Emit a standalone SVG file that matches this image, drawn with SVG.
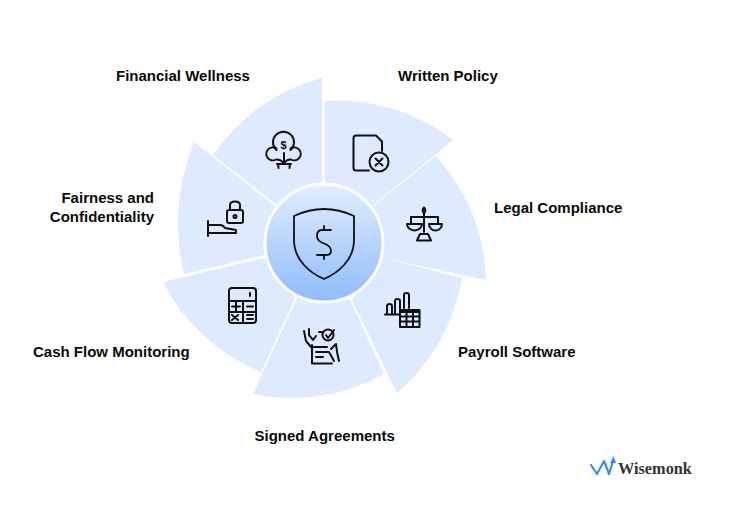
<svg xmlns="http://www.w3.org/2000/svg" width="738" height="509" viewBox="0 0 738 509">
<defs>
<linearGradient id="hub" x1="0" y1="0" x2="0" y2="1"><stop offset="0" stop-color="#e2eefe"/><stop offset="1" stop-color="#8fbcfb"/></linearGradient>
<style>
.s{fill:#deebfe}
.l{font-family:"Liberation Sans",Arial,sans-serif;font-weight:700;font-size:15px;fill:#0a0a0a}
.i{fill:none;stroke:#111;stroke-width:2;stroke-linecap:round;stroke-linejoin:round}
</style>
</defs>
<rect width="738" height="509" fill="#fff"/>
<g id="connectors"></g>
<g id="written-policy"><path class="s" d="M325 190L325 101A190 190 0 0 1 453 140L372 206Z"/>
<g class="i"><path d="M369 170.500H356Q353.500 170.500 353.500 168V138Q353.500 135.500 356 135.500H376L382 141.500V151"/><circle cx="379" cy="162" r="9.500"/><path d="M375.500 158.500L382.500 165.500M382.500 158.500L375.500 165.500"/></g>
<text class="l" x="398" y="81">Written Policy</text></g>
<g id="legal-compliance"><path class="s" d="M372 207L436 156A190 190 0 0 1 486 280L383 258Z"/>
<g class="i"><path d="M424 214V232M411 217H438"/><path d="M407 224A7.500 6.500 0 0 0 422 224ZM429 224A6.500 6.500 0 0 0 442 224Z"/><path d="M411 217V224M438 217V224"/><path d="M420 234H428L431 240.500H417Z"/><path d="M424 207.500Q426.500 210.500 424 213.500Q421.500 210.500 424 207.500Z"/></g>
<text class="l" x="494" y="213">Legal Compliance</text></g>
<g id="payroll-software"><path class="s" d="M383 258L462 278A190 190 0 0 1 397 393L352 300Z"/>
<g class="i"><path d="M385 314.500H399M387 314V306Q387 304 389.500 304Q392 304 392 306V314M395 314V301Q395 299 397.500 299Q400 299 400 301V309M404 308V295Q404 293 406.500 293Q409 293 409 295V308"/><rect x="400" y="310" width="19.500" height="17"/><path d="M400 312H419.500M400 316.500H419.500M400 321.500H419.500M406.500 310V327M413 310V327"/></g>
<text class="l" x="458" y="357">Payroll Software</text></g>
<g id="signed-agreements"><path class="s" d="M350 300L384 374A190 190 0 0 1 253 394L297 298Z"/>
<g class="i"><path d="M312 345V363.500H332M312 347H327M316 352H328M316 357H323"/><path d="M304 331L306 341L311 347M309 329L309 335L313 340L316 336M319 332H323M331 349L336 344L337 352L339 361M329 352L334 361"/><circle cx="328" cy="335" r="5.500"/><path d="M326 335L328 338L334 330"/></g>
<text class="l" x="254.500" y="441">Signed Agreements</text></g>
<g id="cash-flow"><path class="s" d="M264 258L295 298L261 372A190 190 0 0 1 163 282Z"/>
<g class="i"><rect x="229" y="288" width="27" height="35" rx="3"/><path d="M229 301H256M229 312H256M243 301V323M250 293V296M232 306.500H240M236 302.500V310.500M247 306.500H253M232 315L238 320M238 315L232 320M247 315H253M247 319H253"/></g>
<text class="l" x="33" y="357">Cash Flow Monitoring</text></g>
<g id="fairness"><path class="s" d="M264 255L184 274A215 215 0 0 1 194 142L275 206Z"/>
<g class="i"><path d="M208 221V236M208 225H220Q223 225 225 228L236 230V233H208"/><rect x="227" y="210" width="16" height="13" rx="2"/><path d="M230 210V205Q230 201.500 235 201.500Q240 201.500 240 205V210"/><circle cx="235" cy="216.500" r="1.500"/></g>
<text class="l" x="154" y="203" text-anchor="end">Fairness and</text><text class="l" x="154" y="222" text-anchor="end">Confidentiality</text></g>
<g id="financial-wellness"><path class="s" d="M277 205L213 155A190 190 0 0 1 322 78L322 190Z"/>
<g class="i"><path d="M276.500 150A10.500 10.500 0 1 1 290.500 150"/><path d="M276.500 148.500A6.500 6.500 0 1 0 276 159.500Q280 159 284 163"/><path d="M290.500 148.500A6.500 6.500 0 1 1 291 159.500Q287 159 284 163M284 153V164"/><path d="M277 164H291M278 164L278.500 168M290 164L289.500 168"/></g>
<text x="283.500" y="148.500" font-family="Liberation Sans,Arial,sans-serif" font-weight="700" font-size="11" text-anchor="middle" fill="#111">$</text>
<text class="l" x="116" y="81">Financial Wellness</text></g>
<g id="hub"><circle cx="324" cy="243" r="59" fill="url(#hub)" stroke="#fff" stroke-width="3"/>
<path class="i" style="stroke-width:1.800" d="M294 216Q324 202 354 216V240C354 260 338 273 324 279C310 273 294 260 294 240Z"/>
<path class="i" style="stroke-width:1.800" d="M331 230H322Q317 230 317 236Q317 241 324 243.500Q331 246 331 251Q331 255 326 255H317M324 226V230M324 255V259"/></g>
<g id="logo"><path d="M591 465L597 474L604 461L609 474L613 461" fill="none" stroke="#3f8be6" stroke-width="2.200" stroke-linejoin="round" stroke-linecap="round"/><path d="M610 463L613.500 456L616 463Z" fill="#3f8be6"/>
<text x="618" y="474" font-family="Liberation Serif,serif" font-weight="700" font-size="16.300" fill="#333">Wisemonk</text></g>
</svg>
